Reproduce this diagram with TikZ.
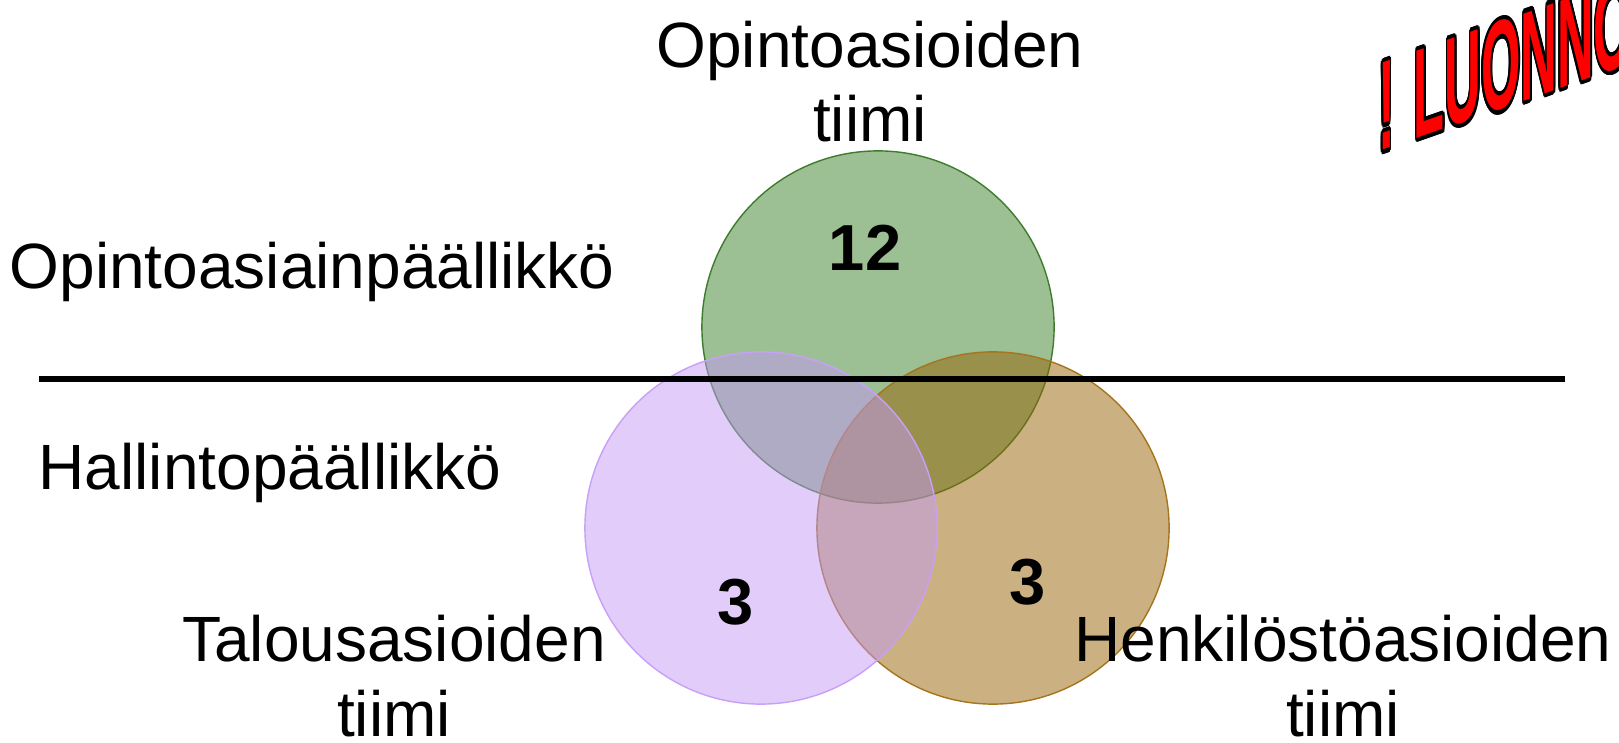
\documentclass[tikz,border=0pt]{standalone}
\usepackage{fontspec}
\setmainfont{Liberation Sans}
\usepackage{contour}
\contourlength{1.2pt}
\definecolor{opgreen}{RGB}{57,127,41}
\definecolor{opgreenline}{RGB}{62,125,45}
\definecolor{tapurple}{RGB}{195,153,245}
\definecolor{tapurpleline}{RGB}{200,160,248}
\definecolor{hebrown}{RGB}{151,99,5}
\definecolor{hebrownline}{RGB}{165,116,28}
\tikzset{every node/.style={inner sep=0pt,font=\fontsize{18.2}{21.3}\selectfont}}
\tikzset{team/.style={circle,minimum size=3.52cm,fill opacity=0.5,line width=0.4pt}}
\tikzset{num/.style={anchor=base,font=\fontsize{18.5}{21}\selectfont\bfseries}}
\tikzset{lbl/.style={anchor=base,align=center}}

\begin{document}
\begin{tikzpicture}[x=0.01cm,y=-0.01cm]
      \useasboundingbox (0,0) rectangle (1619,743);
      \node (opinto)[team,fill=opgreen,draw=opgreenline] at (878,327) {};
      \node (henk)[team,fill=hebrown,draw=hebrownline] at (993,528) {};
      \node (talous)[team,fill=tapurple,draw=tapurpleline] at (761,528) {};

      \coordinate (l) at (39,379);
      \coordinate (r) at (1565,379);
      \draw[line width=1.7pt] (l) -- (r);

      \node (n12)[num] at (865,271) {12};
      \node (n3a)[num] at (736,624) {3};
      \node (n3b)[num] at (1028,604) {3};

      \node (opt)[lbl] at (870,142) {Opintoasioiden\\tiimi};
      \node (tat)[lbl] at (394,736) {Talousasioiden\\tiimi};
      \node (het)[lbl] at (1343,736) {Henkilöstöasioiden\\tiimi};
      \node (opp)[anchor=base west] at (9,289) {Opintoasiainpäällikkö};
      \node (hap)[anchor=base west] at (38,489) {Hallintopäällikkö};

      \begin{scope}
        \clip (0,0) rectangle (1619,743);
        \node (draft)[anchor=base west,yslant=0.35,xscale=0.4,text=red,
          font=\fontsize{36}{40}\selectfont\bfseries] at (1378,152)
          {\contour{black}{! LUONNOS}};
      \end{scope}
    \end{tikzpicture}
\end{document}
